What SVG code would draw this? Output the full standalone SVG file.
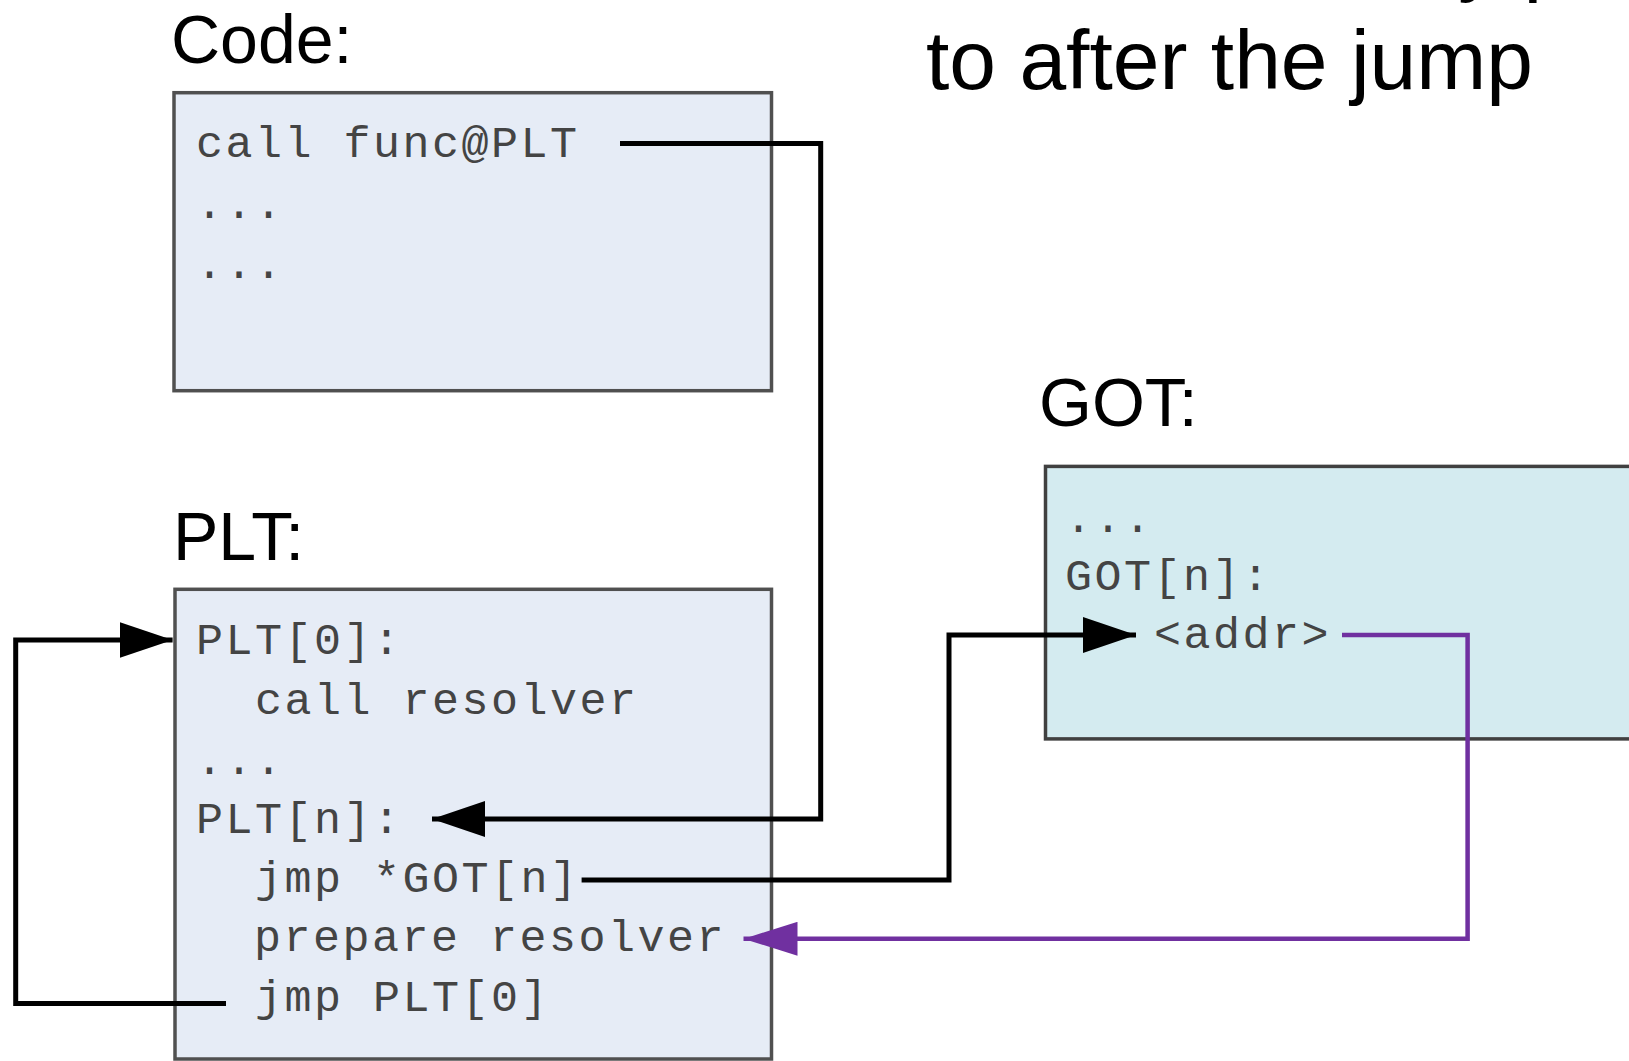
<svg xmlns="http://www.w3.org/2000/svg" width="1629" height="1061" viewBox="0 0 1629 1061">
<style>
.title{font-family:"Liberation Sans",Arial,sans-serif;font-size:68px;fill:#000}
.big{font-family:"Liberation Sans",Arial,sans-serif;font-size:84px;fill:#000}
.code{font-family:"Liberation Mono","Courier New",monospace;font-size:45px;letter-spacing:2.5px;fill:#444}
.box{fill:#E6ECF6;stroke:#505050;stroke-width:3.5}
.got{fill:#D4EBF0;stroke:#404040;stroke-width:3.5}
.blk{fill:none;stroke:#000;stroke-width:5}
.pur{fill:none;stroke:#7030A0;stroke-width:4.5}
</style>
<defs>
<marker id="ah" markerUnits="userSpaceOnUse" markerWidth="54" markerHeight="36" refX="53" refY="18" orient="auto">
<path d="M0,0 L53,18 L0,36 z" fill="#000"/>
</marker>
<marker id="ahp" markerUnits="userSpaceOnUse" markerWidth="54" markerHeight="34" refX="54" refY="17" orient="auto">
<path d="M0,0 L54,17 L0,34 z" fill="#7030A0"/>
</marker>
</defs>
<rect width="1629" height="1061" fill="#fff"/>
<text class="big" x="1248" y="-14.5">initially points</text>
<text class="big" x="926" y="89">to after the jump</text>
<g id="code">
<text class="title" x="171" y="62.5">Code:</text>
<rect class="box" x="174" y="92.7" width="597.5" height="298"/>
<text class="code" x="196" y="157">call func@PLT</text>
<text class="code" x="196" y="218">...</text>
<text class="code" x="196" y="278">...</text>
</g>
<g id="plt">
<text class="title" x="173" y="559.5">PLT:</text>
<rect class="box" x="175" y="589.3" width="596.5" height="469.7"/>
<text class="code" x="196" y="654">PLT[0]:</text>
<text class="code" x="255" y="713.5">call resolver</text>
<text class="code" x="196" y="773.5">...</text>
<text class="code" x="196" y="832.5">PLT[n]:</text>
<text class="code" x="255" y="891.5">jmp *GOT[n]</text>
<text class="code" x="254" y="951">prepare resolver</text>
<text class="code" x="255" y="1010.5">jmp PLT[0]</text>
</g>
<g id="got">
<text class="title" x="1039" y="425.5">GOT:</text>
<rect class="got" x="1045.5" y="466.4" width="600" height="272.5"/>
<text class="code" x="1065" y="532">...</text>
<text class="code" x="1065" y="590">GOT[n]:</text>
<text class="code" x="1154" y="648">&lt;addr&gt;</text>
</g>
<g id="connectors">
<path class="blk" d="M620,143.4 H820.7 V819 H432" marker-end="url(#ah)"/>
<path class="blk" d="M581.6,880 H949 V635 H1136" marker-end="url(#ah)"/>
<path class="pur" d="M1342,635 H1467.6 V938.8 H743.5" marker-end="url(#ahp)"/>
<path class="blk" d="M226,1003.5 H15.7 V640 H172.6" marker-end="url(#ah)"/>
</g>
</svg>
